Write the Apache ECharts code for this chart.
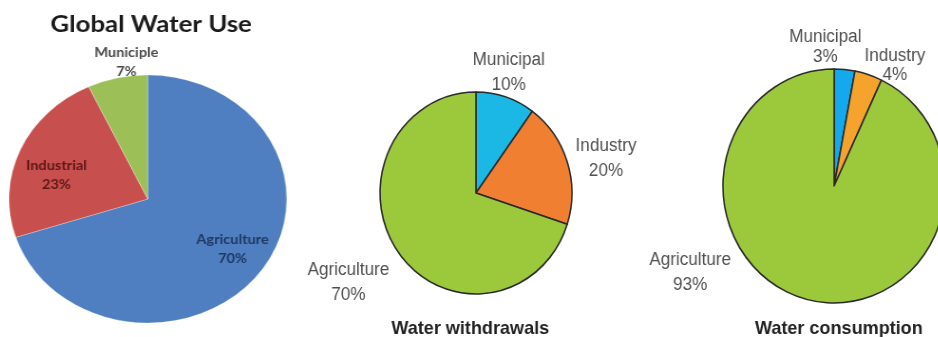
<!DOCTYPE html>
<html>
<head>
<meta charset="utf-8">
<script src="https://cdn.jsdelivr.net/npm/echarts@6/dist/echarts.min.js"></script>
<style>
html,body{margin:0;padding:0;background:#fff;}
#wrap{position:relative;width:938px;height:337px;overflow:hidden;}
#c2{position:absolute;left:0;top:0;width:988px;height:337px;transform:scaleX(0.95);transform-origin:0 0;}
#c1{position:absolute;left:0;top:0;width:268px;height:337px;transform:scaleX(1.12);transform-origin:0 0;}
</style>
</head>
<body>
<div id="wrap"><div id="c2"></div><div id="c1"></div></div>
<script>
// ---- data ----
var globalCategories = ['Agriculture', 'Industrial', 'Municiple'];
var globalValues = [70, 23, 7];
var withdrawalCategories = ['Municipal', 'Industry', 'Agriculture'];
var withdrawalValues = [10, 20, 70];
var consumptionCategories = ['Municipal', 'Industry', 'Agriculture'];
var consumptionValues = [3, 4, 93];
var titles = ['Global Water Use', 'Water withdrawals', 'Water consumption'];

// ---- styling (separate from data) ----
var globalColors = ['#4f7fc0', '#c74f4d', '#9cbf58'];
var globalLabelColors = ['#1f3864', '#5e1818', '#4a4a4a'];
var globalLabelShift = [[23, 12], [-22, 2], [-5, -73]];
var withdrawalColors = ['#1bb8e5', '#f07f31', '#9cc93c'];
var withdrawalLabelShift = [[18, -70], [86, -18], [-91, 58]];
var consumptionColors = ['#14a9ec', '#f5a32c', '#9cc93c'];
var consumptionLabelShift = [[-15, -78], [45, -62], [-138, 27]];
var consumptionLineHeights = [20, 19, 25];

function build(cats, vals, colors) {
  return cats.map(function (c, i) {
    return { name: c, value: vals[i], itemStyle: { color: colors[i] } };
  });
}

function pctLabel(p) { return p.name + '\n' + p.value + '%'; }

// chart 1 (horizontally stretched, as in the reference)
var c1 = echarts.init(document.getElementById('c1'), null, { renderer: 'canvas' });
c1.setOption({
  animation: false,
  title: {
    text: titles[0], left: 130, top: 8, textAlign: 'center',
    textStyle: { fontFamily: 'Lato', fontWeight: 'bold', fontSize: 23, color: '#1a1a1a' }
  },
  series: [{
    type: 'pie',
    center: [132, 199],
    radius: 124,
    startAngle: 90,
    clockwise: true,
    avoidLabelOverlap: false,
    itemStyle: { borderColor: 'rgba(255,255,255,0.5)', borderWidth: 0.5 },
    label: {
      show: true, position: 'inside',
      formatter: pctLabel,
      fontFamily: 'Lato', fontWeight: 'bold', fontSize: 13, lineHeight: 19,
      color: '#333', align: 'center'
    },
    labelLine: { show: false },
    labelLayout: function (p) {
      var s = globalLabelShift[p.dataIndex];
      return { dx: s[0], dy: s[1] };
    },
    data: build(globalCategories, globalValues, globalColors).map(function (d, i) {
      d.label = { color: globalLabelColors[i] };
      return d;
    })
  }]
});

// charts 2 & 3 (slightly compressed horizontally, as in the reference)
var c2 = echarts.init(document.getElementById('c2'), null, { renderer: 'canvas' });
var labelCommon = {
  show: true, position: 'inside',
  formatter: pctLabel,
  fontFamily: 'Liberation Sans', fontSize: 18, lineHeight: 25,
  color: '#505050', align: 'center'
};
var titleStyle = { fontFamily: 'Liberation Sans', fontWeight: 'bold', fontSize: 19, color: '#222' };
c2.setOption({
  animation: false,
  title: [
    { text: titles[1], left: 490, top: 314, textAlign: 'center', textStyle: titleStyle },
    { text: titles[2], left: 878, top: 314, textAlign: 'center', textStyle: titleStyle }
  ],
  series: [{
    type: 'pie',
    center: [501, 193],
    radius: 101,
    startAngle: 90,
    clockwise: true,
    avoidLabelOverlap: false,
    itemStyle: { borderColor: '#2a2a2a', borderWidth: 1.6 },
    label: labelCommon,
    labelLine: { show: false },
    labelLayout: function (p) {
      var s = withdrawalLabelShift[p.dataIndex];
      return { dx: s[0], dy: s[1] };
    },
    data: build(withdrawalCategories, withdrawalValues, withdrawalColors)
  }, {
    type: 'pie',
    center: [878, 186],
    radius: 117,
    startAngle: 90,
    clockwise: true,
    avoidLabelOverlap: false,
    itemStyle: { borderColor: '#2a2a2a', borderWidth: 1.6 },
    label: labelCommon,
    labelLine: { show: false },
    labelLayout: function (p) {
      var s = consumptionLabelShift[p.dataIndex];
      return { dx: s[0], dy: s[1] };
    },
    data: build(consumptionCategories, consumptionValues, consumptionColors).map(function (d, i) {
      d.label = { lineHeight: consumptionLineHeights[i] };
      return d;
    })
  }]
});
</script>
</body>
</html>
